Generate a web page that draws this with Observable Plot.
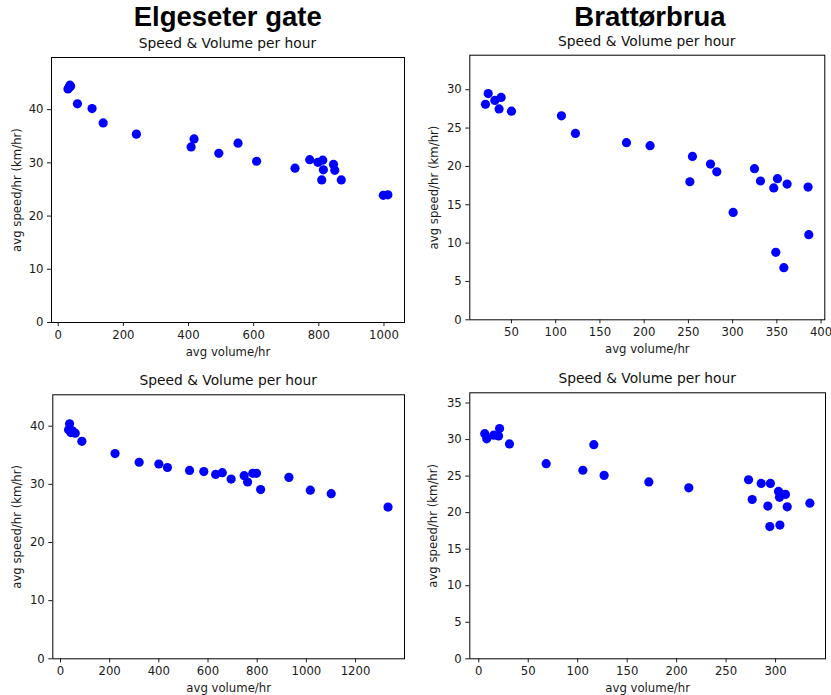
<!DOCTYPE html>
<html><head><meta charset="utf-8">
<script src="https://cdn.jsdelivr.net/npm/d3@7"></script>
<script src="https://cdn.jsdelivr.net/npm/@observablehq/plot@0.6"></script>
<style>
body{margin:0;background:#fff;}
#wrap{position:relative;width:831px;height:695px;overflow:hidden;background:#fff;}
.big{position:absolute;font-family:"Liberation Sans",Arial,sans-serif;font-weight:bold;font-size:27.5px;line-height:27.5px;transform:translateX(-50%);white-space:nowrap;color:#000;}
.sub{position:absolute;font-family:"DejaVu Sans",sans-serif;font-size:13.8px;line-height:13.8px;transform:translateX(-50%);white-space:nowrap;color:#111;}
.panel{position:absolute;}
</style></head><body><div id="wrap"></div>
<script>
// ---- data ----
const columnTitles = ["Elgeseter gate", "Brattørbrua"];
const panelTitle = "Speed & Volume per hour";
const xLabel = "avg volume/hr";
const yLabel = "avg speed/hr (km/hr)";

// Elgeseter gate, top panel
const elgTopVolume = [30, 33, 36, 38, 59, 104, 138, 240, 408, 417, 493, 552, 609, 727, 772, 797, 812, 814, 809, 845, 849, 869, 998, 1012];
const elgTopSpeed  = [43.9, 44.1, 44.6, 44.4, 41.1, 40.2, 37.5, 35.4, 33.0, 34.5, 31.8, 33.7, 30.3, 29.0, 30.6, 30.1, 30.5, 28.7, 26.8, 29.7, 28.6, 26.8, 23.9, 24.0];

// Brattørbrua, top panel
const braTopVolume = [20.6, 23.7, 31.2, 38.3, 36.0, 50.0, 106.5, 122.3, 180, 206.7, 251.7, 254.6, 275, 282.1, 300.6, 324.7, 331.5, 346.5, 350.7, 361.6, 348.8, 357.9, 385.3, 386.1];
const braTopSpeed  = [28.1, 29.5, 28.6, 29.0, 27.5, 27.2, 26.6, 24.3, 23.1, 22.7, 18.0, 21.3, 20.3, 19.3, 14.0, 19.7, 18.1, 17.2, 18.4, 17.7, 8.8, 6.8, 17.3, 11.1];

// Elgeseter gate, bottom panel
const elgBotVolume = [33, 37, 42, 48, 60, 87, 222, 320, 400, 435, 525, 583, 631, 658, 694, 747, 761, 782, 797, 814, 929, 1016, 1101, 1332];
const elgBotSpeed  = [39.4, 40.4, 38.9, 39.2, 38.8, 37.4, 35.3, 33.8, 33.5, 32.9, 32.4, 32.2, 31.7, 32.0, 30.9, 31.5, 30.4, 31.9, 31.9, 29.1, 31.2, 29.0, 28.4, 26.1];

// Brattørbrua, bottom panel
const braBotVolume = [6, 8, 15, 20, 21, 31, 68.1, 105.2, 116.3, 126.7, 171.9, 212.3, 272.7, 276.4, 285.5, 294.8, 292.2, 294.2, 303, 304, 306, 310, 311.8, 304.4, 334.7];
const braBotSpeed  = [30.8, 30.1, 30.6, 30.5, 31.5, 29.4, 26.7, 25.8, 29.3, 25.1, 24.2, 23.4, 24.5, 21.8, 24.0, 24.0, 20.9, 18.1, 22.9, 22.1, 22.5, 22.5, 20.8, 18.3, 21.3];

// ticks
const elgTopXTicks = [0, 200, 400, 600, 800, 1000];
const elgTopYTicks = [0, 10, 20, 30, 40];
const braTopXTicks = [50, 100, 150, 200, 250, 300, 350, 400];
const braTopYTicks = [0, 5, 10, 15, 20, 25, 30];
const elgBotXTicks = [0, 200, 400, 600, 800, 1000, 1200];
const elgBotYTicks = [0, 10, 20, 30, 40];
const braBotXTicks = [0, 50, 100, 150, 200, 250, 300];
const braBotYTicks = [0, 5, 10, 15, 20, 25, 30, 35];

// ---- layout ----
const wrap = document.getElementById("wrap");

function addDiv(cls, text, left, top){
  const d = document.createElement("div");
  d.className = cls; d.textContent = text;
  d.style.left = left + "px"; d.style.top = top + "px";
  wrap.appendChild(d);
}

function panel(vol, spd, xTicks, yTicks, c){
  const data = vol.map((v, i) => ({v, s: spd[i]}));
  const p = Plot.plot({
    width: c.w, height: c.h,
    marginLeft: c.ml, marginRight: c.mr, marginTop: c.mt, marginBottom: c.mb,
    style: {fontFamily: "DejaVu Sans, sans-serif", fontSize: "11.7px", color: "#1a1a1a", background: "#fff", overflow: "visible"},
    x: {domain: c.xd},
    y: {domain: c.yd},
    marks: [
      Plot.dot(data, {x: "v", y: "s", r: 4.6, fill: "#0000ff", stroke: "none"}),
      Plot.frame({stroke: "#000", strokeWidth: 1}),
      Plot.axisX({ticks: xTicks, tickFormat: "d", tickSize: 4, tickPadding: 4, label: xLabel, labelAnchor: "center", labelArrow: "none", labelOffset: c.xlo, fontSize: 11.7}),
      Plot.axisY({ticks: yTicks, tickFormat: "d", tickSize: 4, tickPadding: 4, label: yLabel, labelAnchor: "center", labelArrow: "none", labelOffset: c.ylo, fontSize: 11.7})
    ]
  });
  p.classList.add("panel");
  p.style.left = c.left + "px";
  p.style.top = c.top + "px";
  wrap.appendChild(p);
}

panel(elgTopVolume, elgTopSpeed, elgTopXTicks, elgTopYTicks,
  {left: 0, top: 30, w: 415, h: 335, ml: 51, mr: 11, mt: 27, mb: 43, xd: [-20.6, 1063], yd: [0, 49.8], xlo: 33.5, ylo: 38.7});
panel(braTopVolume, braTopSpeed, braTopXTicks, braTopYTicks,
  {left: 415, top: 30, w: 416, h: 335, ml: 54.3, mr: 6.7, mt: 24.7, mb: 45.7, xd: [2.9, 404.2], yd: [0, 34.5], xlo: 33.5, ylo: 40.3});
panel(elgBotVolume, elgBotSpeed, elgBotXTicks, elgBotYTicks,
  {left: 0, top: 368, w: 415, h: 327, ml: 52.3, mr: 11, mt: 26.3, mb: 36.7, xd: [-31.2, 1399], yd: [0, 45.4], xlo: 33.2, ylo: 40});
panel(braBotVolume, braBotSpeed, braBotXTicks, braBotYTicks,
  {left: 415, top: 368, w: 416, h: 327, ml: 54.3, mr: 6, mt: 24.3, mb: 36.7, xd: [-9.1, 350.5], yd: [0, 36.4], xlo: 33.2, ylo: 41});

addDiv("big", columnTitles[0], 227.7, 2.7);
addDiv("big", columnTitles[1], 650, 2.7);
addDiv("sub", panelTitle, 227.5, 37.1);
addDiv("sub", panelTitle, 646.8, 34.8);
addDiv("sub", panelTitle, 228.2, 374.4);
addDiv("sub", panelTitle, 647.2, 372.4);
</script>
</body></html>
